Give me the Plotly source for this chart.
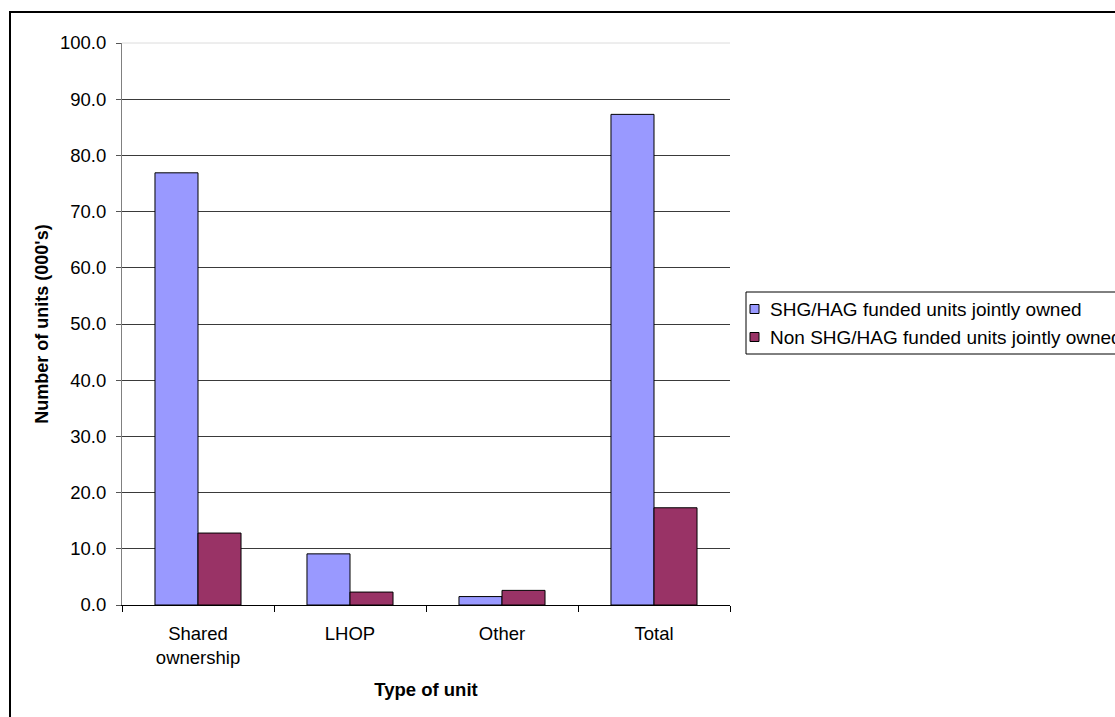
import plotly.graph_objects as go

# Jointly owned units by type (thousands)
categories = ["Shared<br>ownership", "LHOP", "Other", "Total"]
shg_funded = [76.9, 9.1, 1.5, 87.3]
non_shg_funded = [12.8, 2.3, 2.6, 17.3]
series_names = ["SHG/HAG funded units jointly owned", "Non SHG/HAG funded units jointly owned"]
series_colors = ["#9999FF", "#993366"]
y_ticks = [0, 10, 20, 30, 40, 50, 60, 70, 80, 90, 100]

W, H = 1115, 717
L, R, T, B = 122, 385, 43, 112
pw, ph = W - L - R, H - T - B


def px_x(x):
    return (x - L) / pw


def px_y(y):
    return (H - B - y) / ph


FONT = "Liberation Sans, Arial, sans-serif"

fig = go.Figure()
for name, vals, col in zip(series_names, [shg_funded, non_shg_funded], series_colors):
    fig.add_trace(go.Bar(
        x=categories, y=vals, name=name,
        marker=dict(color=col, line=dict(color="black", width=1)),
    ))

fig.update_layout(
    width=W, height=H,
    margin=dict(l=L, r=R, t=T, b=B),
    paper_bgcolor="white", plot_bgcolor="white",
    barmode="group", bargap=0.434, bargroupgap=0,
    showlegend=False,
    font=dict(family=FONT, size=18.5, color="black"),
)

fig.update_xaxes(
    tickson="boundaries", ticks="outside", ticklen=6, tickcolor="black",
    showline=True, linecolor="black", linewidth=1,
    showgrid=False,
    tickfont=dict(size=18.5), ticklabelstandoff=12,
    title=dict(text="<b>Type of unit</b>", font=dict(size=18.5), standoff=15),
)
fig.update_yaxes(
    range=[0, 100], tickvals=y_ticks, tickformat=".1f",
    ticks="outside", ticklen=5, tickcolor="#555",
    showline=True, linecolor="#808080", linewidth=1,
    showgrid=True, gridcolor="#3a3a3a", gridwidth=1,
    zeroline=False,
    tickfont=dict(size=18.5), ticklabelstandoff=6,
    title=dict(text="<b>Number of units (000's)</b>", font=dict(size=18), standoff=6),
)

shapes = []
# outer chart frame, running past the right and bottom edges of the page
shapes.append(dict(type="rect", xref="paper", yref="paper",
                   x0=px_x(10), x1=px_x(1130), y0=px_y(730), y1=px_y(12),
                   line=dict(color="black", width=2), fillcolor="rgba(0,0,0,0)", layer="below"))
# faint top edge of the plot area
shapes.append(dict(type="line", xref="paper", yref="paper",
                   x0=0, x1=1, y0=1, y1=1,
                   line=dict(color="#dcdcdc", width=1)))
# legend frame
shapes.append(dict(type="rect", xref="paper", yref="paper",
                   x0=px_x(746), x1=px_x(1130), y0=px_y(354), y1=px_y(292),
                   line=dict(color="black", width=1), fillcolor="white"))
annotations = []
for i, (name, col) in enumerate(zip(series_names, series_colors)):
    cy = 309 + i * 28
    shapes.append(dict(type="rect", xref="paper", yref="paper",
                       x0=px_x(750), x1=px_x(759), y0=px_y(cy + 4.5), y1=px_y(cy - 4.5),
                       line=dict(color="black", width=1), fillcolor=col))
    annotations.append(dict(xref="paper", yref="paper", x=px_x(768), y=px_y(cy),
                            text=name, showarrow=False, xanchor="left", yanchor="middle",
                            font=dict(size=19, family=FONT, color="black")))

fig.update_layout(shapes=shapes, annotations=annotations)

fig.write_html("out.html")
